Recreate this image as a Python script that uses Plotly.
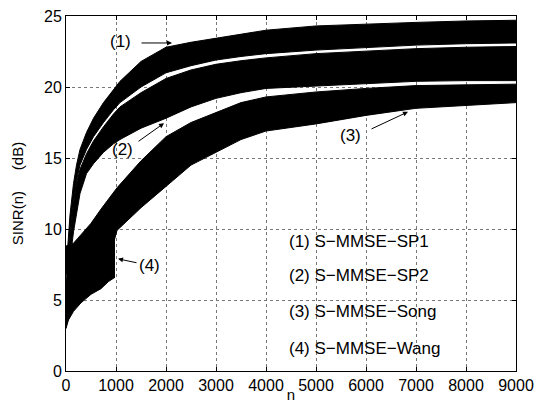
import plotly.graph_objects as go

# ---- data ----
n12 = [0, 30, 80, 150, 210, 280, 410, 550, 750, 950, 1080, 1500, 2000, 2500,
       3000, 3500, 4000, 5000, 6000, 7000, 8000, 9000]
sp1_upper = [5.0, 8.5, 11.0, 13.2, 14.5, 15.6, 16.8, 17.8, 18.9, 19.8, 20.4, 21.8,
             22.8, 23.15, 23.45, 23.75, 24.0, 24.3, 24.45, 24.55, 24.65, 24.7]
sp1_lower = [4.0, 6.5, 9.5, 11.9, 13.4, 14.5, 15.6, 16.5, 17.5, 18.4, 18.9, 20.0,
             21.0, 21.5, 21.9, 22.15, 22.35, 22.6, 22.8, 22.95, 23.05, 23.1]
sp2_upper = [3.5, 6.0, 9.2, 11.7, 13.2, 14.2, 15.3, 16.2, 17.2, 18.1, 18.6, 19.6,
             20.6, 21.2, 21.6, 21.85, 22.05, 22.35, 22.55, 22.7, 22.8, 22.85]
sp2_lower = [3.0, 5.0, 7.8, 9.8, 11.2, 12.5, 13.9, 14.6, 15.4, 16.0, 16.3, 17.1,
             17.8, 18.6, 19.2, 19.6, 19.9, 20.05, 20.2, 20.4, 20.45, 20.45]

n3 = [0, 150, 300, 500, 700, 950, 1020, 1500, 2000, 2500, 3000, 3500, 4000,
      5000, 6000, 7000, 8000, 9000]
song_upper = [8.8, 9.0, 9.6, 10.4, 11.4, 12.6, 12.9, 14.8, 16.5, 17.5, 18.2, 18.9,
              19.3, 19.65, 19.9, 20.1, 20.15, 20.2]
song_lower = [6.8, 7.2, 7.5, 7.8, 8.3, 9.0, 9.9, 11.5, 13.0, 14.5, 15.4, 16.3,
              16.9, 17.4, 18.0, 18.5, 18.7, 18.9]

n4 = [0, 50, 150, 300, 500, 700, 850, 980]
wang_upper = [6.0, 7.0, 7.8, 8.6, 9.6, 10.6, 11.2, 11.8]
wang_lower = [3.0, 3.6, 4.2, 4.8, 5.4, 5.8, 6.3, 6.6]

x_ticks = [0, 1000, 2000, 3000, 4000, 5000, 6000, 7000, 8000, 9000]
y_ticks = [0, 5, 10, 15, 20, 25]

legend_labels = ["(1) S\u2212MMSE\u2212SP1", "(2) S\u2212MMSE\u2212SP2",
                 "(3) S\u2212MMSE\u2212Song", "(4) S\u2212MMSE\u2212Wang"]
legend_y = [9.1, 6.7, 4.2, 1.6]
legend_x = 4420

# curve markers: label position, arrow tail and arrow tip
marks = [
    dict(text="(1)", lx=1080, ly=23.2, tx=1480, ty=23.1, hx=2120, hy=23.1),
    dict(text="(2)", lx=1120, ly=15.6, tx=1420, ty=16.1, hx=1960, hy=17.45),
    dict(text="(3)", lx=5680, ly=16.6, tx=6080, ty=17.0, hx=6840, hy=18.25),
    dict(text="(4)", lx=1660, ly=7.4, tx=1440, ty=7.6, hx=1040, hy=7.9),
]

FONT = "Liberation Sans, Arial, Helvetica, sans-serif"

fig = go.Figure()

bands = [(n12, sp1_lower, sp1_upper), (n12, sp2_lower, sp2_upper),
         (n3, song_lower, song_upper), (n4, wang_lower, wang_upper)]
for xs, lo, hi in bands:
    fig.add_trace(go.Scatter(x=xs, y=lo, mode="lines", line=dict(color="black", width=1),
                             showlegend=False, hoverinfo="skip"))
    fig.add_trace(go.Scatter(x=xs, y=hi, mode="lines", line=dict(color="black", width=1),
                             fill="tonexty", fillcolor="black",
                             showlegend=False, hoverinfo="skip"))

for m in marks:
    fig.add_annotation(x=m["lx"], y=m["ly"], text=m["text"], showarrow=False,
                       font=dict(size=17, color="black", family=FONT))
    fig.add_annotation(x=m["hx"], y=m["hy"], ax=m["tx"], ay=m["ty"],
                       xref="x", yref="y", axref="x", ayref="y", text="",
                       showarrow=True, arrowhead=2, arrowsize=1, arrowwidth=1,
                       arrowcolor="black")

for lab, ly in zip(legend_labels, legend_y):
    fig.add_annotation(x=legend_x, y=ly, text=lab, showarrow=False, xanchor="left",
                       font=dict(size=17, color="black", family=FONT))

axis_common = dict(showline=True, linecolor="black", linewidth=1, mirror="ticks",
                   ticks="inside", ticklen=4, tickcolor="black", showgrid=True,
                   gridcolor="#777", griddash="dot", gridwidth=1, zeroline=False,
                   automargin=False,
                   tickfont=dict(size=16, color="black", family=FONT))

fig.update_xaxes(range=[0, 9000], tickvals=x_ticks, ticktext=[str(v) for v in x_ticks],
                 title=dict(text="n", font=dict(size=15, color="black", family=FONT),
                            standoff=8),
                 **axis_common)
fig.update_yaxes(range=[0, 25], tickvals=y_ticks, ticktext=[str(v) for v in y_ticks],
                 title=dict(text="SINR(n)\u00a0\u00a0\u00a0\u00a0\u00a0(dB)",
                            font=dict(size=15, color="black", family=FONT), standoff=16),
                 **axis_common)

fig.update_layout(width=536, height=403, margin=dict(l=66, r=20, t=16, b=32),
                  paper_bgcolor="white", plot_bgcolor="white", showlegend=False)

fig.write_html("out.html", config={"displayModeBar": False},
               post_script="document.body.style.margin='0';document.body.style.overflow='hidden';")
